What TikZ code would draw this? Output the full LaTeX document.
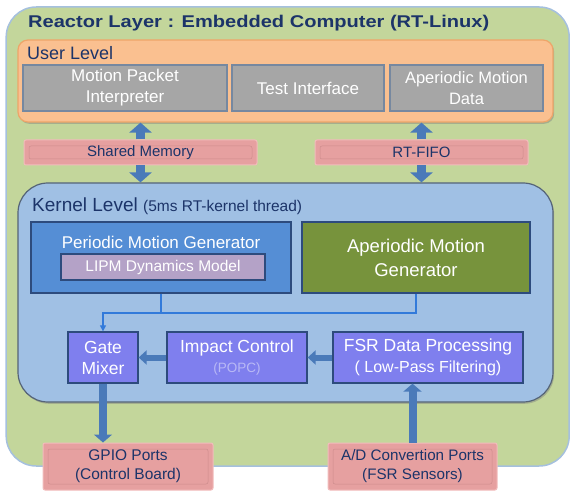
\documentclass[tikz,border=0pt]{standalone}
\usepackage{fontspec}
\setmainfont{Liberation Sans}
\newfontfamily\widefont[FakeStretch=1.18]{Liberation Sans}
\usetikzlibrary{arrows.meta,positioning,shadows}
\definecolor{reactorgreen}{RGB}{195,214,155}
\definecolor{reactorline}{RGB}{165,192,222}
\definecolor{userorange}{RGB}{250,192,144}
\definecolor{userline}{RGB}{238,165,105}
\definecolor{boxgray}{RGB}{166,166,166}
\definecolor{grayline}{RGB}{118,136,160}
\definecolor{portpink}{RGB}{230,160,160}
\definecolor{pinkline}{RGB}{242,188,188}
\definecolor{pinkinner}{RGB}{205,140,140}
\definecolor{kernelblue}{RGB}{160,192,228}
\definecolor{kernelline}{RGB}{85,100,120}
\definecolor{pmgblue}{RGB}{85,142,213}
\definecolor{boxline}{RGB}{45,75,125}
\definecolor{lipmpurple}{RGB}{180,162,199}
\definecolor{amgolive}{RGB}{119,147,60}
\definecolor{ctrlviolet}{RGB}{127,127,238}
\definecolor{popcgray}{RGB}{185,185,245}
\definecolor{arrowblue}{RGB}{74,122,185}
\definecolor{wireblue}{RGB}{50,122,218}
\definecolor{navytext}{RGB}{28,52,105}
\newcommand{\setfs}[2]{\fontsize{#1}{#2}\selectfont}

\begin{document}
\begin{tikzpicture}[x=1pt,y=-1pt,
    every node/.style={inner sep=0pt, align=center},
    layerbox/.style={line width=1.2pt, drop shadow={shadow xshift=1.2pt, shadow yshift=-1.8pt, opacity=.45}},
    ubox/.style={draw=grayline, line width=1.2pt, fill=boxgray, text=white,
                 minimum height=46pt, font=\setfs{17}{21}},
    port/.style={draw=pinkline, line width=1pt, fill=portpink, text=navytext, rounded corners=2pt,
                 path picture={\draw[pinkinner, line width=.5pt]
                   ([shift={(5pt,-6pt)}]path picture bounding box.north west) rectangle
                   ([shift={(-5pt,6pt)}]path picture bounding box.south east);}},
    genbox/.style={draw=boxline, line width=1.4pt, text=white, minimum height=71pt},
    ctrl/.style={draw=boxline, line width=1.3pt, fill=ctrlviolet, text=white,
                 minimum height=51pt, font=\setfs{17.5}{21}},
    blockarrow/.style={arrowblue, line width=9pt, -{Triangle[width=22pt,length=10pt]}},
    portarrow/.style={arrowblue, line width=8pt, -{Triangle[width=18pt,length=8pt]}},
    smallarrow/.style={arrowblue, line width=6pt, -{Triangle[width=14pt,length=8pt]}},
    wire/.style={wireblue, line width=1.2pt}]
  \useasboundingbox (0,0) rectangle (571,492);

  % reactor layer
  \node[draw=reactorline, line width=1.5pt, fill=reactorgreen, rounded corners=30pt,
        minimum width=563pt, minimum height=459pt] (reactor) at (287.7,236.5) {};
  \node[anchor=west, text=navytext, font=\widefont\setfs{17}{20}\bfseries] (title) at (28,23)
    {Reactor Layer : Embedded Computer (RT-Linux)};

  % user level
  \node[layerbox, draw=userline, fill=userorange, rounded corners=10pt,
        minimum width=535pt, minimum height=82pt] (user) at (285.5,81) {};
  \node[anchor=west, text=navytext, font=\setfs{18}{20}] (userlabel) at (27,53) {User Level};
  \node[ubox, minimum width=204pt] (packet) at (125,88) {Motion Packet\\Interpreter};
  \node[ubox, minimum width=152pt] (test) at (308,88) {Test Interface};
  \node[ubox, minimum width=153pt, font=\setfs{16.5}{21}] (apdata) at (466.5,88) {Aperiodic Motion\\Data};

  % shared channels
  \node[port, minimum width=233pt, minimum height=25pt, font=\setfs{15}{18}] (shm) at (140.5,152.5) {Shared Memory};
  \node[port, minimum width=213pt, minimum height=25pt, font=\setfs{15}{18}] (fifo) at (421.5,152.5) {RT-FIFO};

  % kernel level
  \node[layerbox, draw=kernelline, fill=kernelblue, rounded corners=30pt,
        minimum width=535pt, minimum height=219pt] (kernel) at (285.5,292.5) {};
  \node[anchor=west, text=navytext, font=\setfs{19}{22}] (kernellabel) at (32,206)
    {Kernel Level {\setfs{15.5}{16}(5ms RT-kernel thread)}};
  \node[genbox, fill=pmgblue, minimum width=260pt] (pmg) at (161,257.5) {};
  \node[text=white, font=\setfs{17}{20}] (pmglabel) at (161,242) {Periodic Motion Generator};
  \node[draw=boxline, line width=1.3pt, fill=lipmpurple, text=white, font=\setfs{15.5}{18},
        minimum width=204pt, minimum height=26pt] (lipm) at (163,267) {LIPM Dynamics Model};
  \node[genbox, fill=amgolive, minimum width=228pt, font=\setfs{18.5}{24}] (amg) at (416,257.5)
    {Aperiodic Motion\\Generator};

  \node[ctrl, minimum width=70pt] (gate) at (103,357.5) {Gate\\Mixer};
  \node[ctrl, minimum width=140pt] (impact) at (237,357.5)
    {Impact Control\\[-1pt]{\color{popcgray}\setfs{13.5}{16}(POPC)}};
  \node[ctrl, minimum width=190pt] (fsr) at (428,357.5)
    {FSR Data Processing\\{\setfs{16}{21}( Low-Pass Filtering)}};

  % hardware ports
  \node[port, minimum width=170pt, minimum height=47pt, font=\setfs{15.5}{19}] (gpio) at (128,466.5)
    {GPIO Ports\\(Control Board)};
  \node[port, minimum width=169pt, minimum height=47pt, font=\setfs{15.2}{19}] (adc) at (412.5,466.5)
    {A/D Convertion Ports\\(FSR Sensors)};

  % connectors
  \coordinate (join) at (gate.north |- 0,313);
  \draw[wire] (pmg.south) -- (pmg.south |- join);
  \draw[wire, -{Triangle[width=6pt,length=6pt]}] (amg.south) |- (join) -- (gate.north);

  \draw[blockarrow] (shm.north) -- (shm.north |- user.south);
  \draw[blockarrow] (shm.south) -- (shm.south |- kernel.north);
  \draw[blockarrow] (fifo.north) -- (fifo.north |- user.south);
  \draw[blockarrow] (fifo.south) -- (fifo.south |- kernel.north);

  \draw[smallarrow] (impact.west) -- (gate.east);
  \draw[smallarrow] (fsr.west) -- (impact.east);
  \draw[portarrow] (gate.south) -- (gate.south |- gpio.north);
  \draw[portarrow] (adc.north) -- (adc.north |- fsr.south);
\end{tikzpicture}
\end{document}
